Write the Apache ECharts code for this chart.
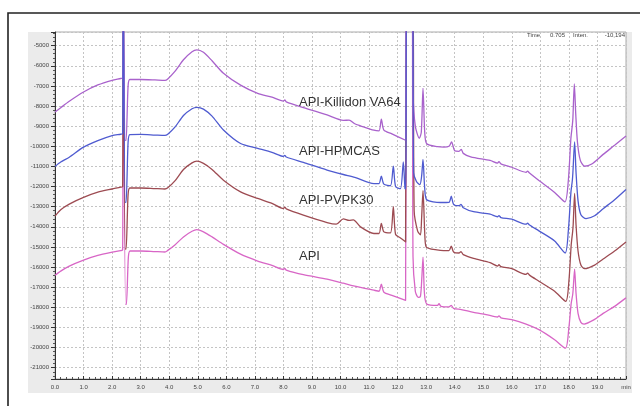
<!DOCTYPE html>
<html>
<head>
    <meta charset="utf-8">
    <title>Chromatograms</title>
    <script src="https://cdn.jsdelivr.net/npm/echarts@6/dist/echarts.min.js"></script>
    <style>
        body { margin: 0; background: #fff; }
        #main { width: 640px; height: 406px; }
    </style>
</head>
<body>
<div id="main"></div>
<script type="text/javascript">
// [time (min), intensity]; -1000 means off the top of the scale
var killidon = [[0,-8300],[0.2,-8080],[0.5,-7760],[1.0,-7300],[1.5,-6950],[2.0,-6720],[2.3,-6630],[2.37,-6600],[2.39,-1000],[2.41,-1000],[2.46,-9700],[2.49,-9700],[2.56,-7000],[2.62,-6680],[3.0,-6680],[3.5,-6700],[3.85,-6720],[3.95,-6650],[4.2,-6280],[4.5,-5700],[4.8,-5300],[4.97,-5210],[5.2,-5330],[5.5,-5750],[5.9,-6370],[6.5,-6960],[7.1,-7370],[7.6,-7560],[8.0,-7750],[8.05,-7690],[8.1,-7790],[8.7,-8080],[9.53,-8440],[10.1,-8710],[10.3,-8700],[10.5,-8880],[10.7,-8980],[11.17,-9200],[11.35,-9230],[11.43,-8650],[11.52,-9200],[11.8,-9380],[12.28,-9700],[12.31,-1000],[12.5,-1000],[12.54,-7300],[12.62,-9000],[12.76,-9600],[12.83,-9300],[12.89,-7120],[12.95,-9300],[13.02,-9870],[13.4,-10020],[13.62,-10040],[13.8,-10000],[13.89,-9780],[14.0,-10220],[14.15,-10250],[14.23,-10150],[14.3,-10350],[14.56,-10520],[15.24,-10700],[15.5,-10830],[15.55,-10760],[15.62,-10870],[16.0,-11040],[16.5,-11290],[16.55,-11230],[16.62,-11330],[16.95,-11700],[17.5,-12290],[17.86,-12760],[17.98,-11700],[18.07,-9600],[18.12,-8950],[18.14,-8600],[18.19,-6900],[18.24,-8400],[18.3,-9800],[18.4,-10700],[18.55,-10990],[18.8,-10880],[19.2,-10400],[19.6,-9950],[20.0,-9490]];

var hpmcas = [[0,-11000],[0.2,-10780],[0.5,-10540],[1.0,-10040],[1.5,-9720],[2.0,-9470],[2.3,-9400],[2.37,-9370],[2.39,-1000],[2.41,-1000],[2.46,-12780],[2.49,-12780],[2.56,-9800],[2.62,-9420],[3.0,-9410],[3.5,-9440],[3.85,-9460],[3.95,-9400],[4.2,-9050],[4.5,-8470],[4.8,-8130],[4.97,-8060],[5.2,-8150],[5.5,-8500],[5.9,-9190],[6.5,-9860],[7.1,-10100],[7.6,-10300],[8.0,-10500],[8.05,-10450],[8.1,-10530],[8.7,-10800],[9.53,-11180],[10.1,-11400],[10.5,-11540],[11.17,-11850],[11.35,-11850],[11.43,-11480],[11.52,-11880],[11.75,-11960],[11.85,-10980],[11.93,-12000],[12.1,-12100],[12.2,-10770],[12.26,-12100],[12.29,-12110],[12.32,-1000],[12.52,-1000],[12.56,-11300],[12.66,-11750],[12.78,-11900],[12.84,-11500],[12.89,-10650],[12.95,-12100],[13.02,-12650],[13.5,-12790],[13.8,-12780],[13.88,-12480],[13.96,-12880],[14.15,-12950],[14.22,-12880],[14.3,-13050],[14.66,-13250],[15.24,-13370],[15.5,-13500],[15.55,-13440],[15.62,-13540],[16.0,-13620],[16.5,-13870],[16.55,-13820],[16.62,-13910],[16.95,-14200],[17.5,-14700],[17.87,-15300],[17.98,-14200],[18.07,-12300],[18.12,-11700],[18.14,-11300],[18.2,-9780],[18.25,-11300],[18.32,-12700],[18.42,-13400],[18.6,-13590],[18.9,-13450],[19.2,-13100],[19.6,-12650],[20.0,-12140]];

var pvpk30 = [[0,-13470],[0.2,-13150],[0.5,-12870],[1.0,-12540],[1.5,-12280],[2.0,-12120],[2.3,-12030],[2.37,-12000],[2.39,-1000],[2.41,-1000],[2.46,-15100],[2.49,-15100],[2.56,-12400],[2.62,-12070],[3.0,-12070],[3.5,-12100],[3.85,-12120],[3.95,-12060],[4.2,-11720],[4.5,-11150],[4.8,-10820],[4.97,-10740],[5.2,-10850],[5.5,-11150],[5.9,-11680],[6.5,-12260],[7.1,-12590],[7.6,-12830],[8.0,-13090],[8.05,-13020],[8.1,-13110],[8.7,-13420],[9.53,-13790],[9.85,-13870],[10.1,-13600],[10.3,-13680],[10.45,-13650],[10.7,-14000],[11.17,-14330],[11.35,-14330],[11.43,-13830],[11.52,-14250],[11.75,-14300],[11.85,-13000],[11.93,-14380],[12.1,-14550],[12.28,-14750],[12.31,-1000],[12.52,-1000],[12.58,-13200],[12.7,-14200],[12.8,-14400],[12.84,-13600],[12.89,-12200],[12.96,-14600],[13.02,-15030],[13.5,-15170],[13.8,-15180],[13.88,-14960],[13.96,-15250],[14.15,-15300],[14.22,-15230],[14.3,-15380],[14.66,-15570],[15.24,-15780],[15.5,-15950],[15.55,-15880],[15.62,-15980],[16.0,-16080],[16.5,-16360],[16.55,-16300],[16.62,-16400],[16.95,-16700],[17.5,-17200],[17.89,-17700],[18.0,-16700],[18.08,-14900],[18.13,-14250],[18.15,-13900],[18.2,-12340],[18.25,-13900],[18.32,-15200],[18.42,-15900],[18.55,-16080],[18.9,-15900],[19.2,-15600],[19.6,-15200],[20.0,-14750]];

var api = [[0,-16410],[0.2,-16200],[0.5,-15950],[1.0,-15650],[1.5,-15420],[2.0,-15260],[2.3,-15180],[2.37,-15150],[2.39,-1000],[2.41,-1000],[2.47,-17850],[2.5,-17850],[2.57,-15500],[2.63,-15200],[3.0,-15200],[3.5,-15230],[3.85,-15250],[3.95,-15170],[4.2,-14900],[4.5,-14500],[4.8,-14220],[4.97,-14140],[5.2,-14250],[5.5,-14500],[5.9,-14870],[6.5,-15360],[7.1,-15700],[7.6,-15920],[8.0,-16120],[8.05,-16060],[8.1,-16150],[8.7,-16380],[9.53,-16600],[10.1,-16800],[10.5,-16950],[11.17,-17150],[11.35,-17200],[11.43,-16850],[11.52,-17250],[11.8,-17400],[12.28,-17650],[12.31,-1000],[12.5,-1000],[12.54,-15500],[12.62,-17200],[12.72,-17500],[12.8,-17450],[12.85,-16500],[12.89,-15500],[12.94,-17300],[13.02,-17830],[13.4,-17900],[13.45,-17820],[13.52,-17950],[13.8,-17980],[13.88,-17900],[13.96,-18050],[14.23,-18110],[14.66,-18250],[15.1,-18360],[15.5,-18480],[15.55,-18420],[15.62,-18520],[16.0,-18610],[16.5,-18830],[16.95,-19110],[17.5,-19610],[17.88,-20030],[18.0,-19000],[18.08,-17800],[18.13,-17400],[18.15,-17100],[18.2,-16100],[18.25,-17300],[18.32,-18300],[18.42,-18750],[18.53,-18830],[18.9,-18600],[19.2,-18300],[19.6,-17950],[20.0,-17530]];

var traceNames = ['API-Killidon VA64', 'API-HPMCAS', 'API-PVPK30', 'API'];
var traceColors = ['#a962cc', '#4f5bd0', '#9d4b52', '#d866c6'];
var infoTexts = ['Time', '0.705', 'Inten.', '-10,194'];

var myChart = echarts.init(document.getElementById('main'));

var traces = [killidon, hpmcas, pvpk30, api];
// draw order: API, PVPK30, Killidon, HPMCAS on top
var drawOrder = [3, 2, 0, 1];
var series = [];
for (var i = 0; i < drawOrder.length; i++) {
    var n = drawOrder[i];
    series.push({
        name: traceNames[n],
        type: 'line',
        data: traces[n],
        showSymbol: false,
        smooth: 0.25,
        lineStyle: { color: traceColors[n], width: 1.3 },
        clip: true
    });
}

var labelY = [104, 153, 202, 258];
var graphics = [
    // outer frame
    { type: 'rect', z: -10, shape: { x: 8, y: 13, width: 700, height: 500 },
      style: { fill: '#fff', stroke: '#222', lineWidth: 1.6 } },
    // grey panel behind the plot
    { type: 'rect', z: -5, shape: { x: 28, y: 32, width: 604, height: 361 },
      style: { fill: '#ebebeb' } }
];
for (var j = 0; j < traceNames.length; j++) {
    graphics.push({
        type: 'text', z: 100, left: 299, top: labelY[j] - 8,
        style: { text: traceNames[j], fill: '#333', font: '13px "Liberation Sans", Arial, sans-serif' }
    });
}
var infoX = [527, 550, 573, 625];
for (var k = 0; k < infoTexts.length; k++) {
    graphics.push({
        type: 'text', z: 100, x: infoX[k], y: 35,
        style: { text: infoTexts[k], fill: '#444', font: '6px "Liberation Sans", Arial, sans-serif',
                 align: k === 3 ? 'right' : 'left', verticalAlign: 'middle' }
    });
}

var option = {
    animation: false,
    grid: {
        left: 55, top: 32, right: 14, bottom: 27,
        show: true, backgroundColor: '#fff', borderColor: '#aaa', borderWidth: 1
    },
    xAxis: {
        type: 'value', min: 0, max: 20, interval: 1,
        axisLine: { lineStyle: { color: '#333', width: 1 } },
        axisTick: { inside: true, length: 3, lineStyle: { color: '#333' } },
        minorTick: { show: true, splitNumber: 5, length: 2, lineStyle: { color: '#555' } },
        axisLabel: {
            fontSize: 6, color: '#444', margin: 5,
            formatter: function (v) { return v === 20 ? 'min' : v.toFixed(1); }
        },
        splitLine: { show: true, lineStyle: { color: '#c4c4c4', type: [2, 2] } }
    },
    yAxis: {
        type: 'value', min: -21560, max: -4320,
        minInterval: 1000, maxInterval: 1000, splitNumber: 17,
        axisLine: { show: true, lineStyle: { color: '#333', width: 1 } },
        axisTick: { show: true, length: 4, lineStyle: { color: '#333' } },
        minorTick: { show: true, splitNumber: 5, length: 2, lineStyle: { color: '#555' } },
        axisLabel: {
            fontSize: 6, color: '#444', margin: 6, showMinLabel: false, showMaxLabel: false,
            formatter: function (v) { return String(v); }
        },
        splitLine: { show: true, lineStyle: { color: '#c4c4c4', type: [2, 2] } }
    },
    graphic: graphics,
    series: series
};
myChart.setOption(option);
</script>
</body>
</html>
